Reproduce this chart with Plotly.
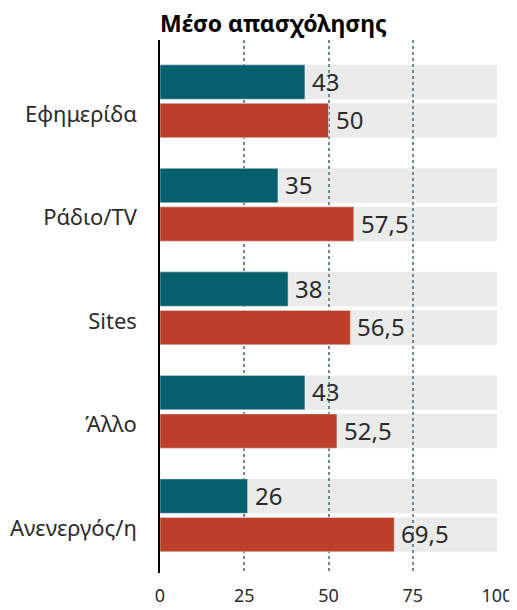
import plotly.graph_objects as go

# Data
categories = ["Εφημερίδα", "Ράδιο/TV", "Sites", "Άλλο", "Ανενεργός/η"]
series_a = [43, 35, 38, 43, 26]
series_b = [50, 57.5, 56.5, 52.5, 69.5]
scale_max = 100
x_ticks = [0, 25, 50, 75, 100]

TEAL = "#065f6c"
RED = "#bc4029"
BG = "#ebebeb"
GRID = "#6e8c98"
FONT = "Noto Sans"

# bar placement inside each category slot
bar_w = 0.332
off_a = -0.352
off_b = 0.02

pos = list(range(len(categories)))


def fmt(v):
    return f"{v:g}".replace(".", ",")


fig = go.Figure()
fig.add_trace(go.Bar(y=pos, x=series_a, orientation="h", marker_color=TEAL,
                     offset=off_a, width=bar_w, hoverinfo="x"))
fig.add_trace(go.Bar(y=pos, x=series_b, orientation="h", marker_color=RED,
                     offset=off_b, width=bar_w, hoverinfo="x"))

# grey track behind each bar, under the dashed grid
for i in pos:
    for off in (off_a, off_b):
        fig.add_shape(type="rect", xref="x", yref="y", layer="below",
                      x0=0, x1=scale_max, y0=i + off, y1=i + off + bar_w,
                      fillcolor=BG, line_width=0)

# value labels
for vals, off in ((series_a, off_a), (series_b, off_b)):
    for i, v in zip(pos, vals):
        fig.add_annotation(x=v, y=i + off + bar_w / 2, text=fmt(v),
                           showarrow=False, xanchor="left", yanchor="middle",
                           xshift=5, yshift=1,
                           font=dict(family=FONT, size=24, color="#2b2b2b"))

# the page body adds an 8px margin, so the figure is 8px smaller each way
fig.update_layout(
    width=509, height=602,
    margin=dict(l=152, r=20, t=32, b=37),
    barmode="overlay",
    showlegend=False,
    plot_bgcolor="white",
    paper_bgcolor="white",
    font=dict(family=FONT, color="#2b2b2b"),
    title=dict(text="<b>Μέσο απασχόλησης</b>", xref="paper", x=0, xanchor="left",
               yref="container", y=1 - 16 / 602, yanchor="middle",
               font=dict(family=FONT, size=23, color="black")),
)
fig.update_xaxes(range=[0, scale_max], tickvals=x_ticks, showgrid=True,
                 gridcolor=GRID, griddash="dot", gridwidth=1.5, zeroline=False,
                 showline=False, ticks="", tickfont=dict(size=18, color="#2b2b2b"),
                 ticklabelstandoff=10, automargin=False)
fig.update_yaxes(range=[4.557, -0.592], tickvals=[i + 0.125 for i in pos],
                 ticktext=categories, showgrid=False, zeroline=False,
                 showline=True, linecolor="black", linewidth=1.5, ticks="",
                 tickfont=dict(size=22, color="#2b2b2b"), ticklabelstandoff=17,
                 automargin=False)

fig.write_html("out.html")
